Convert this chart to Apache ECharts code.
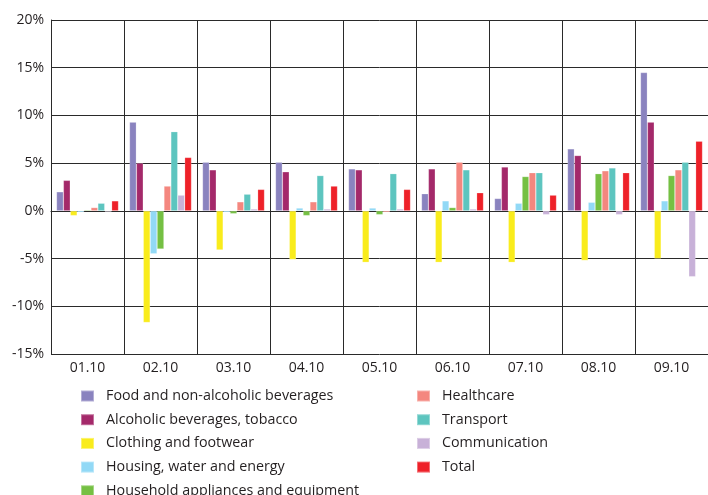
<!DOCTYPE html>
<html>
<head>
<meta charset="utf-8">
<script src="https://cdn.jsdelivr.net/npm/echarts@6/dist/echarts.min.js"></script>
<style>
  html, body { margin: 0; padding: 0; background: #fff; }
  #chart { width: 708px; height: 495px; }
</style>
</head>
<body>
<div id="chart"></div>
<script>
// Month labels (MM.YY)
const months = ['01.10', '02.10', '03.10', '04.10', '05.10', '06.10', '07.10', '08.10', '09.10'];

// Price change by group, % (one value per month)
const food          = [2.0, 9.3, 5.1, 5.1, 4.4, 1.8, 1.3, 6.5, 14.5];
const alcohol       = [3.2, 5.0, 4.3, 4.1, 4.3, 4.4, 4.6, 5.8, 9.3];
const clothing      = [-0.5, -11.7, -4.1, -5.1, -5.4, -5.4, -5.4, -5.2, -5.0];
const housing       = [-0.15, -4.5, -0.15, 0.3, 0.3, 1.05, 0.8, 0.9, 1.05];
const household     = [0.1, -4.0, -0.3, -0.5, -0.4, 0.35, 3.6, 3.9, 3.7];
const healthcare    = [0.35, 2.6, 0.95, 0.95, -0.15, 5.1, 4.0, 4.2, 4.3];
const transport     = [0.8, 8.3, 1.75, 3.7, 3.9, 4.3, 4.0, 4.5, 5.1];
const communication = [-0.1, 1.65, 0.2, 0.2, 0.2, 0.2, -0.4, -0.4, -6.9];
const total         = [1.05, 5.6, 2.25, 2.6, 2.25, 1.9, 1.65, 4.0, 7.3];

// Y-axis ticks, %
const yTicks = [-15, -10, -5, 0, 5, 10, 15, 20];

const groups = [
  { name: 'Food and non-alcoholic beverages', data: food,          color: '#8a83bf' },
  { name: 'Alcoholic beverages, tobacco',     data: alcohol,       color: '#a4296a' },
  { name: 'Clothing and footwear',            data: clothing,      color: '#f9ec1c' },
  { name: 'Housing, water and energy',        data: housing,       color: '#92d9f6' },
  { name: 'Household appliances and equipment', data: household,   color: '#75c043' },
  { name: 'Healthcare',                       data: healthcare,    color: '#f4877f' },
  { name: 'Transport',                        data: transport,     color: '#5dc5bf' },
  { name: 'Communication',                    data: communication, color: '#c8b1d8' },
  { name: 'Total',                            data: total,         color: '#ee2129' }
];

const FONT = 'Open Sans';
const TEXT = '#231f20';
const LINE = '#2a2a2a';

const legendText = {
  fontFamily: FONT, fontSize: 14.3, color: TEXT, lineHeight: 14,
  padding: [0, 0, 0, 7]
};

// Two fixed legend columns below the plot
function legendColumn(left, names) {
  return {
    orient: 'vertical', left: left, top: 384, height: 140,
    padding: 5,
    itemWidth: 13, itemHeight: 11, itemGap: 9.7,
    icon: 'rect', selectedMode: false,
    textStyle: legendText,
    data: names
  };
}

const chart = echarts.init(document.getElementById('chart'), null, { renderer: 'canvas' });

chart.setOption({
  animation: false,
  backgroundColor: '#ffffff',
  grid: { left: 51, top: 20, width: 667, height: 334, containLabel: false },
  legend: [
    legendColumn(75, groups.slice(0, 5).map(g => g.name)),
    legendColumn(411, groups.slice(5).map(g => g.name))
  ],
  xAxis: {
    type: 'category',
    data: months,
    boundaryGap: true,
    axisLine: { show: true, lineStyle: { color: LINE, width: 1 } },
    axisTick: { show: false },
    axisLabel: { fontFamily: FONT, fontSize: 14, color: TEXT, margin: 7 },
    splitLine: { show: true, lineStyle: { color: LINE, width: 1 } }
  },
  yAxis: {
    type: 'value',
    min: yTicks[0],
    max: yTicks[yTicks.length - 1],
    interval: 5,
    axisLine: { show: true, lineStyle: { color: LINE, width: 1 } },
    axisTick: { show: false },
    axisLabel: {
      fontFamily: FONT, fontSize: 14, color: TEXT, margin: 7,
      formatter: v => v + '%'
    },
    splitLine: { show: true, lineStyle: { color: LINE, width: 1 } }
  },
  series: groups.map(g => ({
    type: 'bar',
    name: g.name,
    data: g.data,
    barGap: '0%',
    barCategoryGap: '15%',
    itemStyle: { color: g.color, borderColor: 'rgba(255,255,255,0.35)', borderWidth: 0.6 }
  }))
});
</script>
</body>
</html>
